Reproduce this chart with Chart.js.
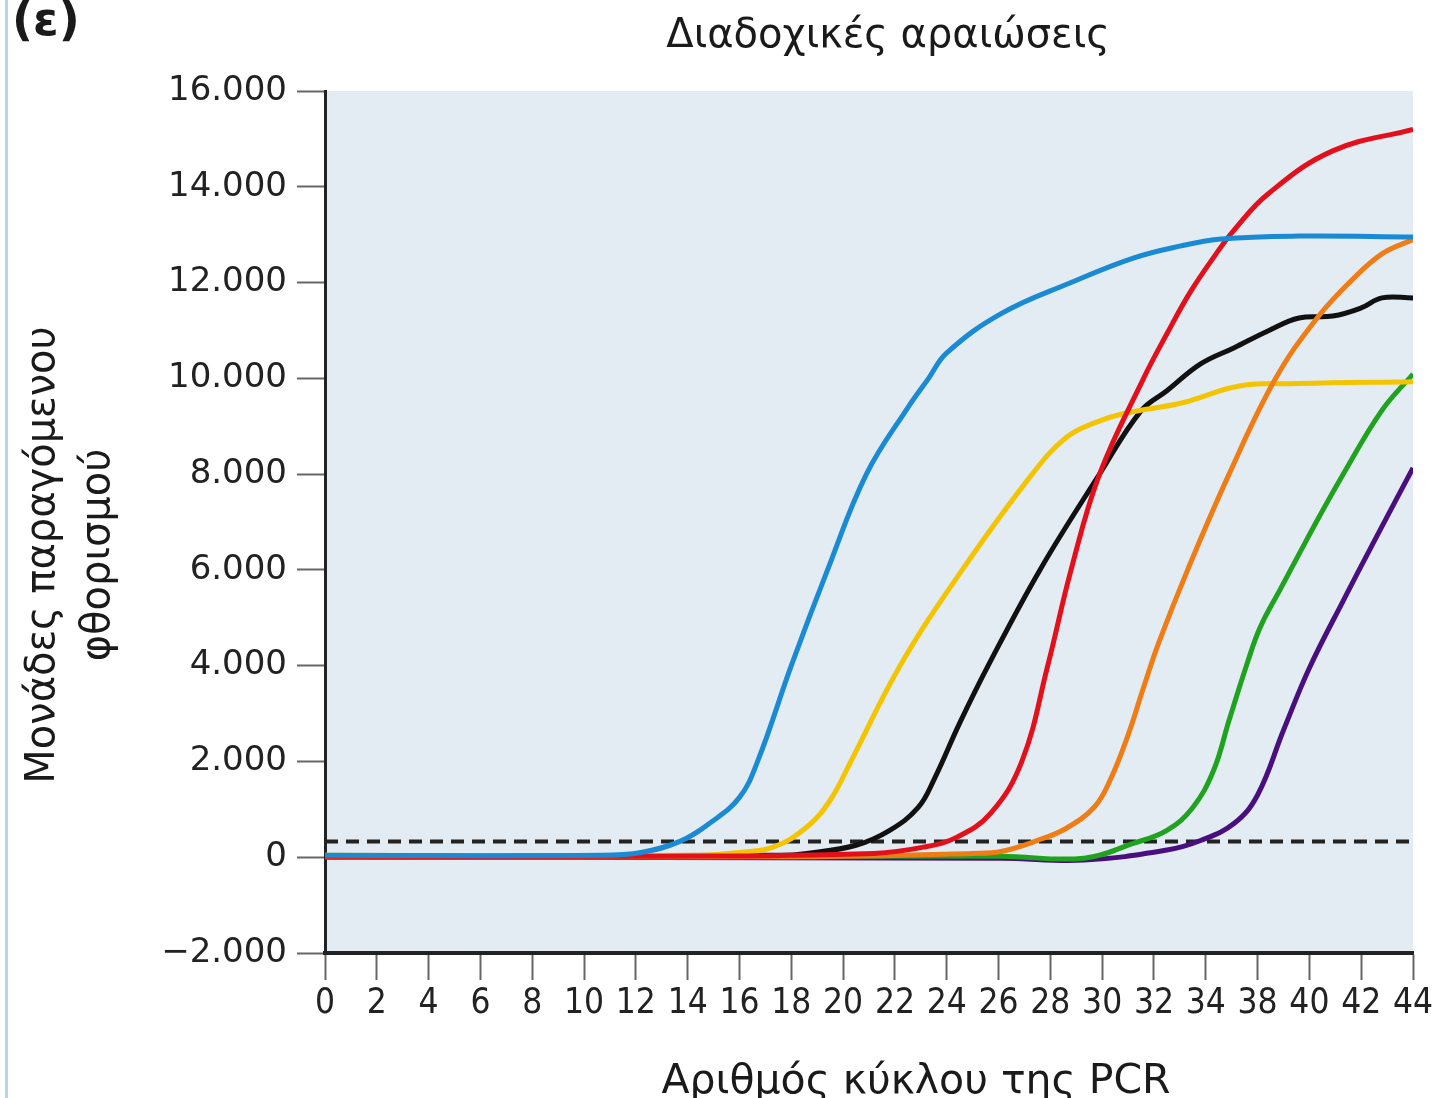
<!DOCTYPE html>
<html>
<head>
<meta charset="utf-8">
<script src="https://cdn.jsdelivr.net/npm/chart.js@4"></script>
<style>
html,body{margin:0;padding:0;background:#fff;}
#wrap{position:relative;width:1442px;height:1098px;}
#edge{position:absolute;left:5px;top:0;width:3px;height:1098px;background:#b9d4f2;}
canvas{position:absolute;left:0;top:0;}
</style>
</head>
<body>
<div id="wrap"><div id="edge"></div><canvas id="c" width="1442" height="1098"></canvas></div>
<script>
// ---- text ----
const panelLabel = '(ε)';
const chartTitle = 'Διαδοχικές αραιώσεις';
const xAxisTitle = 'Αριθμός κύκλου της PCR';
const yAxisTitle = ['Μονάδες παραγόμενου', 'φθορισμού'];

// ---- tick labels (as printed in the original; x positions are evenly spaced) ----
const xTickLabels = ['0','2','4','6','8','10','12','14','16','18','20','22','24','26','28','30','32','34','38','40','42','44'];
const yTickLabels = ['−2.000','0','2.000','4.000','6.000','8.000','10.000','12.000','14.000','16.000'];

// ---- data: [axis position (2 per tick), fluorescence] ----
const threshold = 330;
const blueCurve = [[0,40],[10.6,40],[12.2,100],[13.7,330],[14.9,730],[16.0,1250],[16.7,2000],[18.0,4000],[19.4,6000],[20.9,8000],[22.5,9390],[23.3,10000],[24.0,10530],[26.1,11350],[28.8,12000],[31.2,12510],[33.0,12760],[34.6,12910],[37.6,12970],[42,12950]];
const redCurve = [[0,20],[12.2,20],[21.2,80],[23.1,210],[24.4,420],[25.7,920],[26.9,2000],[27.9,4000],[28.8,6000],[29.9,8000],[31.6,10000],[32.5,10930],[33.4,11800],[34.4,12600],[35.1,13100],[36.4,13850],[38.9,14750],[42,15200]];
const orangeCurve = [[0,10],[18.3,10],[25.0,80],[26.1,120],[27.5,350],[28.6,600],[29.7,1050],[30.3,1600],[31.0,2550],[31.6,3550],[32.2,4500],[33.3,6000],[34.9,8000],[36.7,10000],[38.3,11260],[39.6,12030],[40.8,12600],[42,12900]];
const yellowCurve = [[0,40],[14.5,40],[16.0,100],[17.3,210],[18.6,630],[19.5,1190],[20.3,2000],[22.2,4000],[24.6,6000],[27.3,8000],[28.6,8760],[29.7,9070],[30.8,9260],[33.1,9490],[35.3,9840],[37.6,9890],[42,9930]];
const blackCurve = [[0,30],[17.6,40],[18.6,80],[20.5,250],[21.8,560],[22.9,1040],[23.5,1610],[24.5,2800],[25.6,4000],[27.6,6000],[29.9,8000],[31.5,9320],[32.5,9740],[33.8,10300],[35.1,10640],[36.4,10990],[37.6,11260],[38.9,11300],[40.0,11470],[40.8,11680],[42,11680]];
const greenCurve = [[0,20],[26.1,20],[29.3,-20],[31.2,290],[32.5,560],[33.5,1040],[34.3,1810],[34.9,2860],[35.6,4050],[36.1,4800],[36.9,5620],[37.6,6330],[38.4,7130],[39.2,7900],[40.8,9330],[42,10090]];
const purpleCurve = [[0,0],[26.1,-20],[29.3,-60],[32.5,150],[33.8,350],[35.1,710],[36.0,1300],[37.0,2650],[38.0,3950],[39.3,5350],[40.6,6700],[42,8130]];

const toPts = arr => arr.map(p => ({x: p[0], y: p[1]}));

function curve(data, color) {
  return {
    data: toPts(data),
    borderColor: color,
    borderWidth: 5,
    pointRadius: 0,
    fill: false,
    tension: 0.4
  };
}

const bgPlugin = {
  id: 'plotBg',
  beforeDraw(chart) {
    const {ctx, chartArea: a} = chart;
    ctx.save();
    ctx.fillStyle = '#e3ebf3';
    ctx.fillRect(a.left, a.top, a.right - a.left, a.bottom - a.top);
    ctx.restore();
  }
};

const textPlugin = {
  id: 'texts',
  afterDraw(chart) {
    const ctx = chart.ctx;
    ctx.save();
    ctx.fillStyle = '#1a1a1a';
    ctx.textBaseline = 'alphabetic';
    // panel label
    ctx.font = 'bold 46px "DejaVu Sans"';
    ctx.textAlign = 'left';
    ctx.fillText(panelLabel, 12, 35);
    // title
    ctx.font = '40px "DejaVu Sans"';
    ctx.textAlign = 'center';
    ctx.fillText(chartTitle, 888, 47);
    // x axis title
    ctx.font = '41px "DejaVu Sans"';
    ctx.fillText(xAxisTitle, 916, 1093);
    // y axis title
    ctx.font = '40px "DejaVu Sans"';
    const ys = [54, 109];
    yAxisTitle.forEach((t, i) => {
      ctx.save();
      ctx.translate(ys[i], 555);
      ctx.rotate(-Math.PI / 2);
      ctx.fillText(t, 0, 0);
      ctx.restore();
    });
    ctx.restore();
  }
};

new Chart(document.getElementById('c'), {
  type: 'line',
  data: {
    datasets: [
      curve(blueCurve, '#1a8ad4'),
      curve(redCurve, '#e3101b'),
      curve(orangeCurve, '#f07c16'),
      curve(yellowCurve, '#f4c400'),
      curve(blackCurve, '#111111'),
      curve(greenCurve, '#1fa31f'),
      curve(purpleCurve, '#4a0f7e'),
      {
        data: [{x: 0, y: threshold}, {x: 42, y: threshold}],
        borderColor: '#222222',
        borderWidth: 4,
        borderDash: [13, 8],
        pointRadius: 0,
        fill: false
      }
    ]
  },
  options: {
    responsive: false,
    devicePixelRatio: 1,
    animation: false,
    layout: {padding: {top: 91, right: 29, left: 0, bottom: 0}},
    plugins: {legend: {display: false}, tooltip: {enabled: false}, title: {display: false}},
    scales: {
      x: {
        type: 'linear',
        min: 0, max: 42,
        afterFit(s) { s.height = 145; },
        ticks: {
          stepSize: 2, autoSkip: false, maxRotation: 0, minRotation: 0,
          padding: 3, color: '#222',
          font: {family: '"DejaVu Sans Condensed", "Liberation Sans Narrow", "DejaVu Sans"', size: 35},
          callback: v => xTickLabels[Math.round(v / 2)]
        },
        grid: {drawOnChartArea: false, drawTicks: true, tickLength: 27, tickColor: '#666', tickWidth: 2},
        border: {display: true, color: '#222', width: 4}
      },
      y: {
        min: -2000, max: 16000,
        afterFit(s) { s.width = 325; },
        ticks: {
          stepSize: 2000, padding: 10, color: '#222',
          font: {family: '"DejaVu Sans"', size: 34},
          callback: v => yTickLabels[Math.round((v + 2000) / 2000)]
        },
        grid: {drawOnChartArea: false, drawTicks: true, tickLength: 28, tickColor: '#666', tickWidth: 2},
        border: {display: true, color: '#222', width: 3}
      }
    }
  },
  plugins: [bgPlugin, textPlugin]
});
</script>
</body>
</html>
